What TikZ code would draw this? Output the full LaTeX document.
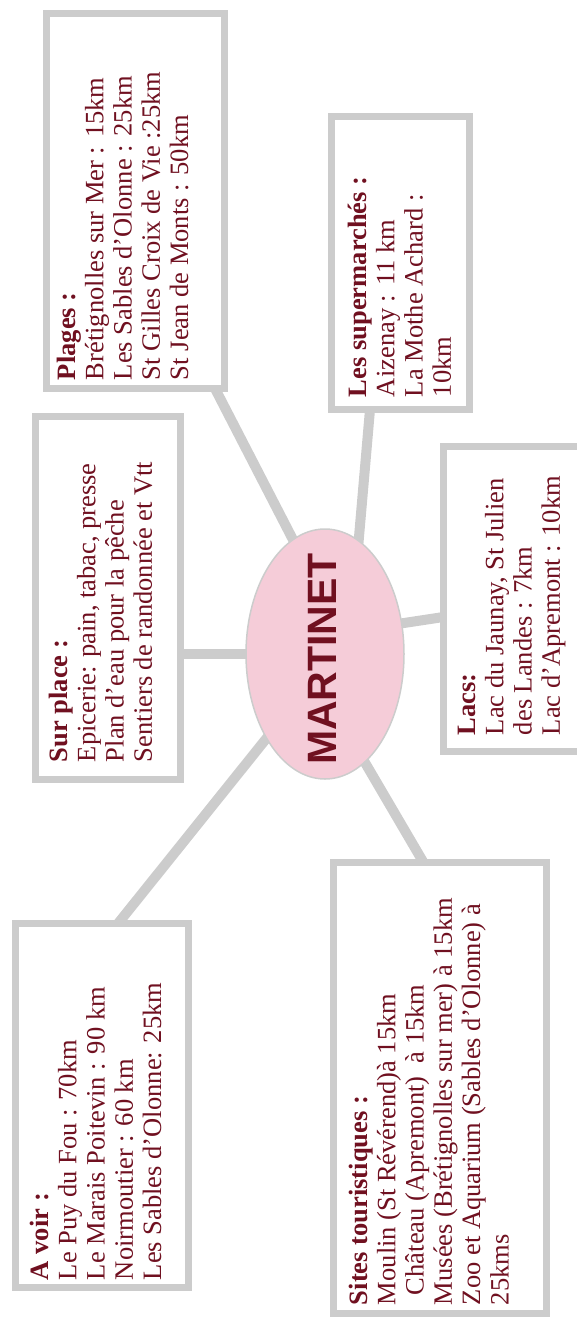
\documentclass[tikz,border=0pt]{standalone}
\usepackage{fontspec}
\setmainfont{Liberation Serif}
\newfontfamily\titlefont{Liberation Sans}
\usetikzlibrary{shapes.geometric,backgrounds,calc}
\definecolor{txt}{RGB}{112,16,32}
\definecolor{lgray}{RGB}{204,204,204}
\definecolor{pinkfill}{RGB}{245,204,216}
\begin{document}
\begin{tikzpicture}[x=1pt,y=-1pt,
  box/.style={draw=lgray, line width=7pt, fill=white, rectangle, inner sep=0pt, outer sep=0pt},
  conn/.style={draw=lgray, line width=10pt},
  boxtext/.style={rotate=90, anchor=base west, inner sep=0pt, outer sep=0pt, text=txt,
    font=\fontsize{26.5}{28.3}\selectfont},
  hub/.style={ellipse, draw=lgray, line width=1.5pt, fill=pinkfill,
    minimum width=158pt, minimum height=250pt, inner sep=0pt}]
\useasboundingbox (0,0) rectangle (577,1317);

% boxes
\node[box, minimum width=178pt, minimum height=375pt] (plages) at (135.5,201) {};
\node[box, minimum width=138pt, minimum height=293pt] (super) at (400.5,263) {};
\node[box, minimum width=145pt, minimum height=363pt] (surplace) at (108,598) {};
\node[box, minimum width=153pt, minimum height=305pt] (lacs) at (520,599) {};
\node[box, minimum width=173pt, minimum height=364pt] (avoir) at (102,1105.5) {};
\node[box, minimum width=213pt, minimum height=451pt] (sites) at (440,1088) {};

% hub
\node[hub] (ell) at (325,654) {};
\node[rotate=90, inner sep=0pt, text=txt, font=\titlefont\bfseries\fontsize{41}{41}\selectfont] (title) at (322.5,659) {MARTINET};

% texts
\node[boxtext] (tplages) at (75,380) {\begin{tabular}[t]{@{}l@{}}
\textbf{Plages :}\\
Brétignolles sur Mer : 15km\\
Les Sables d’Olonne : 25km\\
St Gilles Croix de Vie :25km\\
St Jean de Monts : 50km
\end{tabular}};

\node[boxtext] (tsuper) at (366,397) {\begin{tabular}[t]{@{}l@{}}
\textbf{Les supermarchés :}\\
Aizenay : 11 km\\
La Mothe Achard :\\
10km
\end{tabular}};

\node[boxtext] (tsurplace) at (67,762) {\begin{tabular}[t]{@{}l@{}}
\textbf{Sur place :}\\
Epicerie: pain, tabac, presse\\
Plan d’eau pour la pêche\\
Sentiers de randonnée et Vtt
\end{tabular}};

\node[boxtext] (tlacs) at (475,735) {\begin{tabular}[t]{@{}l@{}}
\textbf{Lacs:}\\
Lac du Jaunay, St Julien\\
des Landes : 7km\\
Lac d’Apremont : 10km
\end{tabular}};

\node[boxtext] (tavoir) at (48,1280) {\begin{tabular}[t]{@{}l@{}}
\textbf{A voir :}\\
Le Puy du Fou : 70km\\
Le Marais Poitevin : 90 km\\
Noirmoutier : 60 km\\
Les Sables d’Olonne: 25km
\end{tabular}};

\node[boxtext] (tsites) at (367,1305) {\begin{tabular}[t]{@{}l@{}}
\textbf{Sites touristiques :}\\
Moulin (St Révérend)à 15km\\
\hspace*{10pt}Château (Apremont)\ \ à 15km\\
Musées (Brétignolles sur mer) à 15km\\
Zoo et Aquarium (Sables d’Olonne) à\\
25kms
\end{tabular}};

% connectors
\begin{pgfonlayer}{background}
\draw[conn] (plages.south -| 215,0) -- ($(ell.center)+(-20,-91)$);
\draw[conn] (super.south -| 370,0) -- ($(ell.center)+(32,-94)$);
\draw[conn] (surplace.east |- ell.center) -- (ell.center);
\draw[conn] (lacs.west |- 0,617) -- ($(ell.center)+(0,-19)$);
\draw[conn] (avoir.north -| 118,0) -- ($(ell.center)+(-35,55)$);
\draw[conn] (sites.north -| 423.5,0) -- ($(ell.center)+(25,83)$);
\end{pgfonlayer}
\end{tikzpicture}
\end{document}
